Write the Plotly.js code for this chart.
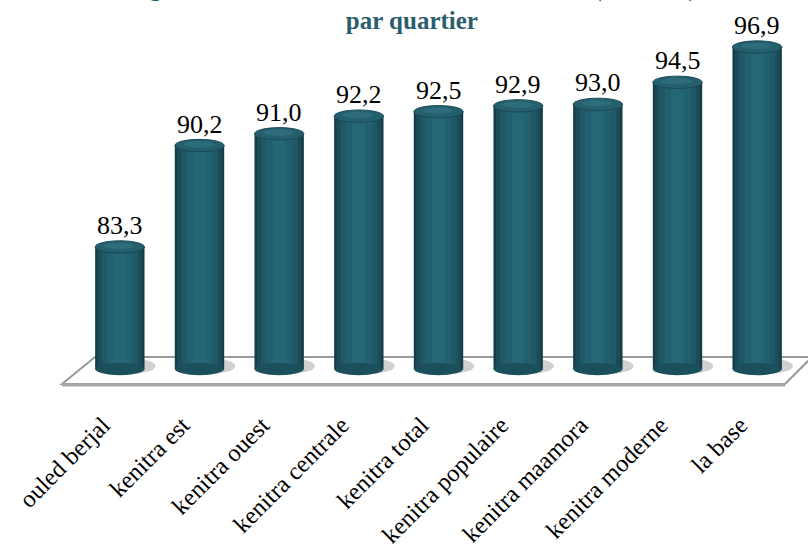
<!DOCTYPE html>
<html>
<head>
<meta charset="utf-8">
<script src="https://cdn.plot.ly/plotly-3.0.1.min.js"></script>
<style>html,body{margin:0;padding:0;background:#fff;}#chart{width:808px;height:555px;}</style>
</head>
<body>
<div id="chart"></div>
<script>
const categories = ["ouled berjal", "kenitra est", "kenitra ouest", "kenitra centrale", "kenitra total", "kenitra populaire", "kenitra maamora", "kenitra moderne", "la base"];
const values = [83.3, 90.2, 91.0, 92.2, 92.5, 92.9, 93.0, 94.5, 96.9];
const baseValue = 75;
const titleText = "Figure 3 : Taux de scolarisation des enfants (6-11 ans)<br>par quartier";

const SERIF = "Liberation Serif";
const W = 808, H = 555, L = 80, R = 11, T = 0, B = 175;
const pw = W - L - R, ph = H - T - B;
const px = x => (x - L) / pw;
const py = y => (H - B - y) / ph;

const idx = categories.map((c, i) => i);
const shades = [
  {w: 0.62, c: "#163d47"},
  {w: 0.56, c: "#1b4c58"},
  {w: 0.46, c: "#1f5866"},
  {w: 0.32, c: "#22606f"},
  {w: 0.16, c: "#266776"}
];
const traces = shades.map(s => ({
  type: "bar", x: idx, y: values.map(v => v - baseValue), base: baseValue,
  width: s.w, marker: {color: s.c, line: {width: 0}}, hoverinfo: "skip", showlegend: false
}));

const shapes = [];
// floor platform
shapes.push({type: "path", xref: "paper", yref: "paper", layer: "below",
  path: `M ${px(95)} ${py(357)} L ${px(812)} ${py(357)} L ${px(785)} ${py(384)} L ${px(62)} ${py(384)} Z`,
  fillcolor: "#ffffff", line: {color: "#9a9a9a", width: 2}});
shapes.push({type: "line", xref: "paper", yref: "paper", layer: "below",
  x0: px(62), y0: py(385), x1: px(785), y1: py(385), line: {color: "#a8a8a8", width: 3}});
values.forEach((v, i) => {
  shapes.push({type: "circle", xref: "x", yref: "y", layer: "below",
    x0: i - 0.3, x1: i + 0.45, y0: baseValue - 0.35, y1: baseValue + 0.75,
    fillcolor: "rgba(150,150,150,0.45)", line: {width: 0}});
  shapes.push({type: "circle", xref: "x", yref: "y", layer: "above",
    x0: i - 0.31, x1: i + 0.31, y0: baseValue - 0.42, y1: baseValue + 0.42,
    fillcolor: "#1c4f5c", line: {width: 0}});
  shapes.push({type: "circle", xref: "x", yref: "y", layer: "above",
    x0: i - 0.31, x1: i + 0.31, y0: v - 0.42, y1: v + 0.42,
    fillcolor: "#245f6d", line: {color: "#1a4a56", width: 1}});
  shapes.push({type: "circle", xref: "x", yref: "y", layer: "above",
    x0: i - 0.2, x1: i + 0.18, y0: v - 0.15, y1: v + 0.3,
    fillcolor: "#2e6f7e", line: {width: 0}, opacity: 0.8});
});

const annotations = values.map((v, i) => ({
  x: i, y: v, xref: "x", yref: "y", yanchor: "bottom", yshift: 5, showarrow: false,
  text: v.toFixed(1).replace(".", ","),
  font: {family: SERIF, size: 26, color: "#000000"}
}));
// chart title (first line runs off the top edge as in the reference)
annotations.push({
  xref: "paper", yref: "paper", x: px(412), y: py(36), xanchor: "center", yanchor: "bottom",
  showarrow: false, text: titleText,
  font: {family: SERIF, size: 25, color: "#2b5e6d", weight: "bold"}
});

const layout = {
  width: W, height: H,
  margin: {l: L, r: R, t: T, b: B},
  paper_bgcolor: "#fff", plot_bgcolor: "rgba(0,0,0,0)",
  barmode: "overlay",
  font: {family: SERIF},
  xaxis: {range: [-0.5, categories.length - 0.5], tickmode: "array", tickvals: idx, ticktext: categories,
    tickangle: -45, showgrid: false, zeroline: false, showline: false, ticks: "",
    ticklabelshift: -17, ticklabelstandoff: 25,
    tickfont: {family: SERIF, size: 24.5, color: "#000000"}},
  yaxis: {range: [74.25, 100.1], visible: false, showgrid: false, zeroline: false},
  shapes: shapes, annotations: annotations,
  showlegend: false
};
Plotly.newPlot("chart", traces, layout, {displayModeBar: false, staticPlot: true});
</script>
</body>
</html>
